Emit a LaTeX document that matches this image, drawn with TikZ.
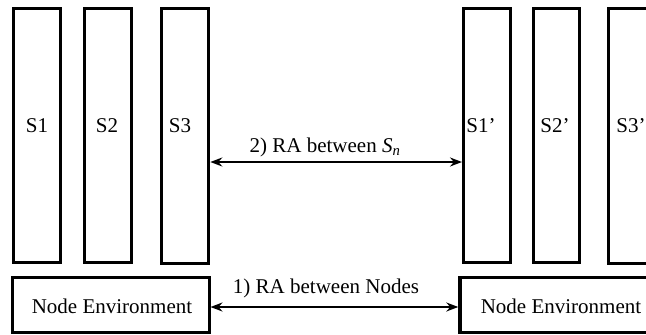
\documentclass[tikz,border=0pt]{standalone}
\usepackage{fontspec}
\setmainfont{Liberation Serif}
\usetikzlibrary{arrows.meta}
\begin{document}
\begin{tikzpicture}[x=1pt,y=-1pt,
  sbox/.style={draw=black,line width=3pt,minimum width=47pt,minimum height=254pt,inner sep=0pt},
  sboxb/.style={sbox,line width=3.6pt},
  envbox/.style={draw=black,line width=3pt,minimum width=197pt,minimum height=55pt,inner sep=0pt},
  lbl/.style={anchor=base,inner sep=0pt,font=\fontsize{21}{25}\selectfont},
  conn/.style={line width=2pt,{Stealth[length=12pt,width=9pt,inset=4pt]}-{Stealth[length=12pt,width=9pt,inset=4pt]}}]
\useasboundingbox (0,0) rectangle (646,335);
\node[sbox] (s1) at (37,135.5) {};
\node[sbox] (s2) at (107.5,135.5) {};
\node[sboxb,minimum height=255pt] (s3) at (185,136) {};
\node[sbox] (s1p) at (487,135.5) {};
\node[sbox,minimum width=46pt] (s2p) at (556,135.5) {};
\node[sboxb,minimum height=255pt] (s3p) at (632,136) {};
\node[envbox] (env1) at (110.5,305) {};
\node[envbox,minimum width=202pt,line width=3.4pt] (env2) at (561,305) {};
\node[lbl] (t1) at (37,132) {S1};
\node[lbl] (t2) at (107,132) {S2};
\node[lbl] (t3) at (180,132) {S3};
\node[lbl] (t1p) at (481,132) {S1’};
\node[lbl] (t2p) at (555,132) {S2’};
\node[lbl] (t3p) at (631,132) {S3’};
\node[lbl] (te1) at (112,313) {Node Environment};
\node[lbl] (te2) at (561,313) {Node Environment};
\draw[conn] ([yshift=-26pt]s3.east) -- ([yshift=-26.5pt]s1p.west);
\draw[conn] ([yshift=-2pt]env1.east) -- ([yshift=-2pt]env2.west);
\node[lbl] (a2) at (325,152) {2) RA between \textit{S}\textsubscript{\textit{n}}};
\node[lbl] (a1) at (326,293) {1) RA between Nodes};
\end{tikzpicture}
\end{document}
